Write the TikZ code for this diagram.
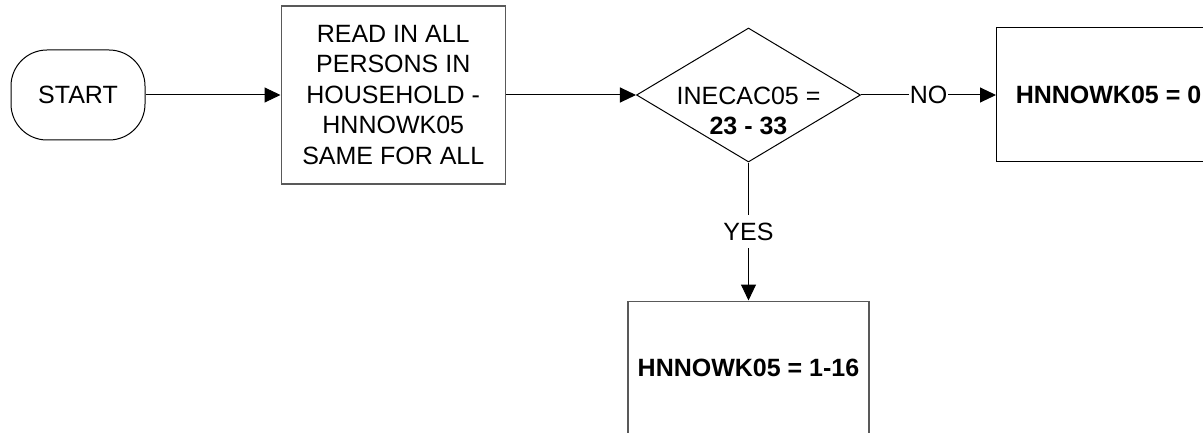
\documentclass[tikz,border=0pt]{standalone}
\usepackage{fontspec}
\setmainfont{Liberation Sans}
\usetikzlibrary{arrows.meta,positioning,shapes.geometric}
\tikzset{
  chartfont/.style={font=\fontsize{25pt}{30.5pt}\selectfont},
  terminal/.style={draw=black,line width=1pt,rounded corners=36pt,minimum width=134pt,minimum height=90pt,inner sep=0pt},
  process/.style={draw=black!65,line width=1.5pt,minimum width=224pt,minimum height=178pt,align=center,inner sep=0pt},
  result/.style={draw=black,line width=1pt,minimum width=224pt,minimum height=134pt,inner sep=0pt,font=\fontsize{25pt}{30.5pt}\selectfont\bfseries},
  decision/.style={diamond,aspect=1.67,draw=black,line width=1pt,minimum width=224pt,minimum height=134pt,inner sep=-20pt,align=center,text height=80pt,text depth=0pt},
  arr/.style={-{Triangle[length=16pt,width=15pt]},draw=black,line width=1pt},
  answer/.style={fill=white,inner xsep=0.5pt,inner ysep=8pt}
}

\begin{document}
\begin{tikzpicture}[chartfont]
  \useasboundingbox (0,0) rectangle (1203pt,-433pt);
  \clip (0,0) rectangle (1203pt,-433pt);
  \node[terminal] (start) at (78pt,-95pt) {START};
  \node[process,right=135pt of start] (read) {READ IN ALL\\PERSONS IN\\HOUSEHOLD -\\HNNOWK05\\SAME FOR ALL};
  \node[decision,right=130pt of read] (test) {INECAC05 =\\\textbf{23 - 33}};
  \node[result,right=135pt of test] (zero) {HNNOWK05 = 0};
  \node[result,below=138pt of test,minimum width=241pt,draw=black!65,line width=1.5pt] (range) {HNNOWK05 = 1-16};
  \draw[arr] (start) -- (read);
  \draw[arr] (read) -- (test);
  \draw[arr] (test) -- node[answer]{NO} (zero);
  \draw[arr] (test) -- node[answer]{YES} (range);
\end{tikzpicture}
\end{document}
